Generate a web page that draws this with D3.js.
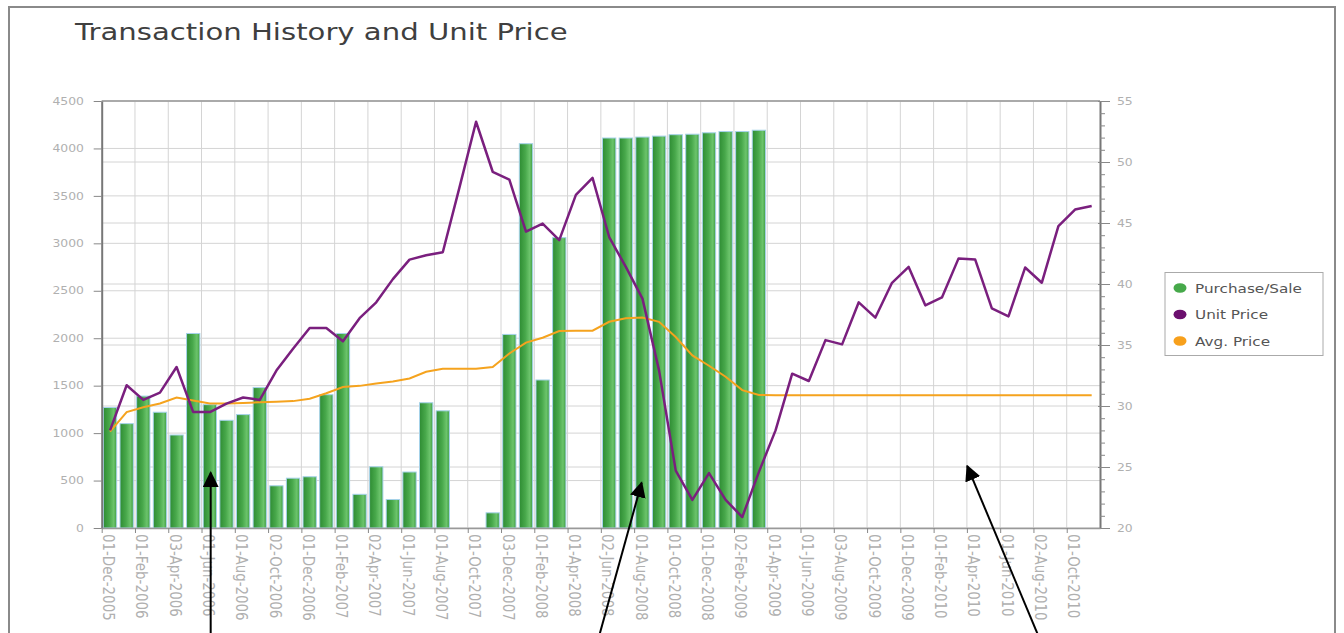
<!DOCTYPE html>
<html>
<head>
<meta charset="utf-8">
<script src="https://cdn.jsdelivr.net/npm/d3@7"></script>
<style>
    body { margin: 0; background: #fff; }
    text { font-family: "DejaVu Sans", Verdana, sans-serif; }
</style>
</head>
<body>
<svg id="chart" width="1344" height="633"></svg>
<script>
// ----- data (monthly, Dec 2005 .. Nov 2010)
const months = [
    'Dec-2005', 'Jan-2006', 'Feb-2006', 'Mar-2006', 'Apr-2006', 'May-2006', 'Jun-2006', 'Jul-2006', 'Aug-2006', 'Sep-2006',
    'Oct-2006', 'Nov-2006', 'Dec-2006', 'Jan-2007', 'Feb-2007', 'Mar-2007', 'Apr-2007', 'May-2007', 'Jun-2007', 'Jul-2007',
    'Aug-2007', 'Sep-2007', 'Oct-2007', 'Nov-2007', 'Dec-2007', 'Jan-2008', 'Feb-2008', 'Mar-2008', 'Apr-2008', 'May-2008',
    'Jun-2008', 'Jul-2008', 'Aug-2008', 'Sep-2008', 'Oct-2008', 'Nov-2008', 'Dec-2008', 'Jan-2009', 'Feb-2009', 'Mar-2009',
    'Apr-2009', 'May-2009', 'Jun-2009', 'Jul-2009', 'Aug-2009', 'Sep-2009', 'Oct-2009', 'Nov-2009', 'Dec-2009', 'Jan-2010',
    'Feb-2010', 'Mar-2010', 'Apr-2010', 'May-2010', 'Jun-2010', 'Jul-2010', 'Aug-2010', 'Sep-2010', 'Oct-2010', 'Nov-2010'
];

// shown on every second month
const tickLabels = [
    '01-Dec-2005', '01-Feb-2006', '03-Apr-2006', '01-Jun-2006', '01-Aug-2006', '02-Oct-2006',
    '01-Dec-2006', '01-Feb-2007', '02-Apr-2007', '01-Jun-2007', '01-Aug-2007', '01-Oct-2007',
    '03-Dec-2007', '01-Feb-2008', '01-Apr-2008', '02-Jun-2008', '01-Aug-2008', '01-Oct-2008',
    '01-Dec-2008', '02-Feb-2009', '01-Apr-2009', '01-Jun-2009', '03-Aug-2009', '01-Oct-2009',
    '01-Dec-2009', '01-Feb-2010', '01-Apr-2010', '01-Jun-2010', '02-Aug-2010', '01-Oct-2010'
];

const purchases = [
    1270, 1100, 1390, 1220, 980, 2050, 1300, 1135, 1195, 1480,
    445, 525, 540, 1405, 2050, 355, 645, 300, 590, 1320,
    1235, null, null, 160, 2040, 4050, 1560, 3060, null, null,
    4110, 4110, 4120, 4130, 4145, 4150, 4165, 4178, 4178, 4192,
    null, null, null, null, null, null, null, null, null, null,
    null, null, null, null, null, null, null, null, null, null
];

const unitPrice = [
    28.0, 31.7, 30.5, 31.1, 33.2, 29.5, 29.5, 30.2, 30.7, 30.5,
    32.9, 34.7, 36.4, 36.4, 35.3, 37.2, 38.5, 40.4, 42.0, 42.35,
    42.6, 47.9, 53.3, 49.2, 48.55, 44.3, 44.95, 43.6, 47.3, 48.7,
    43.85, 41.4, 38.8, 32.9, 24.7, 22.3, 24.5, 22.3, 20.9, 24.6,
    28.0, 32.65, 32.05, 35.4, 35.05, 38.5, 37.25, 40.1, 41.4, 38.25,
    38.9, 42.1, 42.0, 38.0, 37.35, 41.35, 40.1, 44.75, 46.1, 46.4
];

const avgPrice = [
    27.9, 29.5, 29.9, 30.2, 30.7, 30.45, 30.2, 30.2, 30.25, 30.3,
    30.35, 30.4, 30.6, 31.05, 31.55, 31.65, 31.85, 32.0, 32.25, 32.8,
    33.05, 33.05, 33.05, 33.2, 34.3, 35.2, 35.6, 36.15, 36.17, 36.17,
    36.9, 37.2, 37.25, 36.9, 35.65, 34.15, 33.3, 32.4, 31.3, 30.9,
    30.88, 30.88, 30.88, 30.88, 30.88, 30.88, 30.88, 30.88, 30.88, 30.88,
    30.88, 30.88, 30.88, 30.88, 30.88, 30.88, 30.88, 30.88, 30.88, 30.88
];

const seriesNames = ['Purchase/Sale', 'Unit Price', 'Avg. Price'];
const seriesColors = ['#46a94a', '#6b0f6e', '#f7a01c'];

// pointer arrows drawn over the chart: month index + left-axis value of the tip, month index of the tail
const arrowTips = [[6.55, 583], [32.45, 477], [52.02, 653]];
const arrowTails = [6.55, 29.83, 56.4];

// ----- layout
const plot = { left: 101.7, right: 1100, top: 101, bottom: 528 };
const stretch = 1.24; // the original text is drawn a bit wide

const svg = d3.select('#chart');

// outer frame
svg.append('rect')
    .attr('x', 9).attr('y', 7)
    .attr('width', 1326).attr('height', 640)
    .attr('fill', '#fff')
    .attr('stroke', '#8a8a8a')
    .attr('stroke-width', 2);

svg.append('text')
    .attr('transform', `translate(75,39.5) scale(${stretch},1)`)
    .attr('font-size', 23.5)
    .attr('fill', '#3f3f3f')
    .text('Transaction History and Unit Price');

// ----- scales
const x = d3.scaleBand()
    .domain(months)
    .range([plot.left, plot.right])
    .paddingInner(0.2)
    .paddingOuter(0.1);

const xIdx = d3.scaleLinear()
    .domain([0, months.length])
    .range([plot.left, plot.right]);

const yL = d3.scaleLinear().domain([0, 4500]).range([plot.bottom, plot.top]);
const yR = d3.scaleLinear().domain([20, 55]).range([plot.bottom, plot.top]);

const leftTicks = d3.range(0, 4501, 500);
const rightTicks = d3.range(20, 56, 5);

// ----- grid
const grid = svg.append('g').attr('stroke', '#d4d4d4').attr('stroke-width', 1);

grid.selectAll('line.v')
    .data(d3.range(2, months.length, 2))
    .join('line')
    .attr('class', 'v')
    .attr('x1', i => xIdx(i)).attr('x2', i => xIdx(i))
    .attr('y1', plot.top).attr('y2', plot.bottom);

grid.selectAll('line.hl')
    .data(leftTicks)
    .join('line')
    .attr('class', 'hl')
    .attr('x1', plot.left).attr('x2', plot.right)
    .attr('y1', d => yL(d)).attr('y2', d => yL(d));

grid.selectAll('line.hr')
    .data(rightTicks)
    .join('line')
    .attr('class', 'hr')
    .attr('x1', plot.left).attr('x2', plot.right)
    .attr('y1', d => yR(d)).attr('y2', d => yR(d));

svg.append('line')
    .attr('x1', plot.left).attr('x2', plot.right)
    .attr('y1', plot.top).attr('y2', plot.top)
    .attr('stroke', '#999').attr('stroke-width', 1.5);

// ----- bars
const defs = svg.append('defs');
const grad = defs.append('linearGradient')
    .attr('id', 'barGrad')
    .attr('x1', '0%').attr('x2', '100%').attr('y1', '0%').attr('y2', '0%');
grad.append('stop').attr('offset', '0%').attr('stop-color', '#2e8c33');
grad.append('stop').attr('offset', '45%').attr('stop-color', '#48a84b');
grad.append('stop').attr('offset', '78%').attr('stop-color', '#6cc46c');
grad.append('stop').attr('offset', '100%').attr('stop-color', '#3e9c41');

svg.append('g')
    .selectAll('rect')
    .data(months.map((m, i) => ({ m, v: purchases[i] })).filter(d => d.v != null))
    .join('rect')
    .attr('x', d => x(d.m))
    .attr('y', d => yL(d.v))
    .attr('width', x.bandwidth())
    .attr('height', d => yL(0) - yL(d.v))
    .attr('fill', 'url(#barGrad)')
    .attr('stroke', '#a6d2ea')
    .attr('stroke-width', 1);

// ----- lines
const priceLine = d3.line()
    .x((d, i) => x(months[i]) + x.bandwidth() / 2)
    .y(d => yR(d));

svg.append('path')
    .datum(avgPrice)
    .attr('d', priceLine)
    .attr('fill', 'none')
    .attr('stroke', '#f5a31e')
    .attr('stroke-width', 2);

svg.append('path')
    .datum(unitPrice)
    .attr('d', priceLine)
    .attr('fill', 'none')
    .attr('stroke', '#7a1f7e')
    .attr('stroke-width', 2.5)
    .attr('stroke-linejoin', 'round');

// ----- axes
const styleAxis = g => {
    g.selectAll('.tick line').attr('stroke', '#888');
    g.selectAll('text').attr('fill', '#b0b0b0').attr('font-family', '"DejaVu Sans", Verdana, sans-serif');
};

// left
const axisL = svg.append('g')
    .attr('transform', `translate(${plot.left},0)`)
    .call(d3.axisLeft(yL).tickValues(leftTicks).tickSize(8).tickSizeOuter(0).tickFormat(d3.format('d')));
axisL.select('.domain').attr('stroke', '#777').attr('stroke-width', 2);
styleAxis(axisL);
axisL.selectAll('text')
    .attr('font-size', 10)
    .attr('x', -17.7 / stretch)
    .attr('transform', `scale(${stretch},1)`);

// right, major + minor ticks
const axisR = svg.append('g')
    .attr('transform', `translate(${plot.right},0)`)
    .call(d3.axisRight(yR).tickValues(rightTicks).tickSize(10).tickSizeOuter(0));
axisR.select('.domain').attr('stroke', '#777').attr('stroke-width', 2);
styleAxis(axisR);
axisR.selectAll('.tick line').attr('x1', -2);
axisR.selectAll('text')
    .attr('font-size', 10)
    .attr('x', 17 / stretch)
    .attr('transform', `scale(${stretch},1)`);

const minorR = svg.append('g')
    .attr('transform', `translate(${plot.right},0)`)
    .call(d3.axisRight(yR).tickValues(d3.range(20, 55, 1).filter(v => v % 5 !== 0)).tickSize(5).tickFormat(''));
minorR.select('.domain').remove();
minorR.selectAll('.tick line').attr('stroke', '#888');

// bottom
const axisB = svg.append('g')
    .attr('transform', `translate(0,${plot.bottom})`)
    .call(d3.axisBottom(xIdx)
        .tickValues(d3.range(0, months.length, 2))
        .tickSize(5)
        .tickSizeOuter(0)
        .tickFormat(i => tickLabels[i / 2]));
axisB.select('.domain').attr('stroke', '#999').attr('stroke-width', 1.5);
styleAxis(axisB);
axisB.selectAll('text')
    .attr('font-size', 13.4)
    .attr('x', 0).attr('y', 0).attr('dy', 0)
    .attr('text-anchor', 'start')
    .attr('transform', `translate(1,6) scale(${stretch},1) rotate(90)`);

// ----- legend
const legend = svg.append('g');
legend.append('rect')
    .attr('x', 1165).attr('y', 272.5)
    .attr('width', 158).attr('height', 83)
    .attr('fill', '#fff')
    .attr('stroke', '#aaa');

const items = legend.selectAll('g.item')
    .data(seriesNames)
    .join('g')
    .attr('class', 'item')
    .attr('transform', (d, i) => `translate(1180,${288 + i * 26.5})`);

items.append('ellipse')
    .attr('rx', 6.5).attr('ry', 4.8)
    .attr('fill', (d, i) => seriesColors[i]);

items.append('text')
    .attr('transform', `translate(15,4.5) scale(${stretch},1)`)
    .attr('font-size', 12.3)
    .attr('fill', '#555')
    .text(d => d);

// ----- pointer arrows
defs.append('marker')
    .attr('id', 'arrowHead')
    .attr('viewBox', '0 0 10 10')
    .attr('refX', 9).attr('refY', 5)
    .attr('markerWidth', 8).attr('markerHeight', 8)
    .attr('markerUnits', 'strokeWidth')
    .attr('orient', 'auto')
    .append('path')
    .attr('d', 'M0,0 L10,5 L0,10 z')
    .attr('fill', '#000');

svg.append('g')
    .selectAll('line')
    .data(arrowTips.map((t, i) => ({ tip: t, tail: arrowTails[i] })))
    .join('line')
    .attr('x1', d => xIdx(d.tail)).attr('y1', 640)
    .attr('x2', d => xIdx(d.tip[0])).attr('y2', d => yL(d.tip[1]))
    .attr('stroke', '#000')
    .attr('stroke-width', 2)
    .attr('marker-end', 'url(#arrowHead)');
</script>
</body>
</html>
